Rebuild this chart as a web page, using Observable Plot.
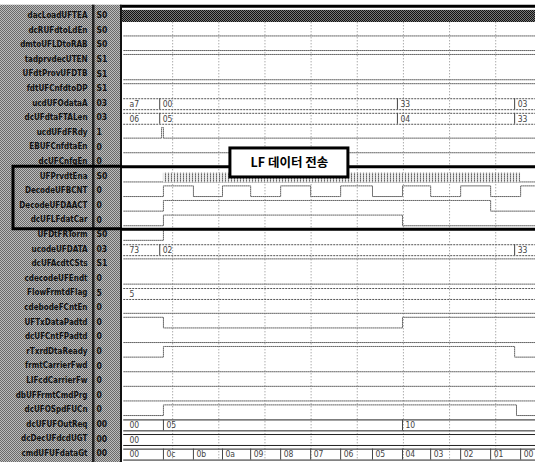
<!DOCTYPE html>
<html><head><meta charset="utf-8">
<script src="https://cdn.jsdelivr.net/npm/d3@7"></script>
<script src="https://cdn.jsdelivr.net/npm/@observablehq/plot@0.6"></script>
<style>body{margin:0;background:#fff} #chart svg{display:block}</style>
</head><body><div id="chart"></div>
<script>
// ---- data ----
const signalNames = ["dacLoadUFTEA","dcRUFdtoLdEn","dmtoUFLDtoRAB","tadprvdecUTEN","UFdtProvUFDTB","fdtUFCnfdtoDP","ucdUFOdataA","dcUFdtaFTALen","ucdUFdFRdy","EBUFCnfdtaEn","dcUFCnfgEn","UFPrvdtEna","DecodeUFBCNT","DecodeUFDAACT","dcUFLFdatCar","UFDtFRTorm","ucodeUFDATA","dcUFAcdtCSts","cdecodeUFEndt","FlowFrmtdFlag","cdebodeFCntEn","UFTxDataPadtd","dcUFCntFPadtd","rTxrdDtaReady","frmtCarrierFwd","LIFcdCarrierFw","dbUFFrmtCmdPrg","dcUFOSpdFUCn","dcUFUFOutReq","dcDecUFdcdUGT","cmdUFUFdataGt"];
const signalValues = ["S0","S0","S0","S1","S1","S1","03","03","1","0","0","S0","0","0","0","S0","03","S1","0","5","0","0","0","0","0","0","0","0","00","00","00"];
const signalKinds = ["dense","bit","bit","bit","bit","bit","bus","bus","bit","bit","bit","bit","bit","bit","bit","bit","bus","bit","bit","bus","bit","bit","bit","bit","bit","bit","bit","bit","bus","bus","bus"];
const bitInitial = [0,0,0,1,0,1,0,0,0,0,0,0,0,0,0,0,0,1,0,0,0,1,0,0,0,0,0,0,0,0,0];
const counterTimes = [0,0.80,1.45,2.08,2.69,3.34,3.99,4.64,5.33,5.98,6.59,7.24,7.89,8.54];
const counterLabels = ["00","0c","0b","0a","09","08","07","06","05","04","03","02","01","00"];
const bitToggles = [[],[],[],[],[],[],[],[],[0.76,0.80],[],[],[],
  [0.80,1.45,2.08,2.69,3.34,3.99,4.64,5.33,5.98,6.59,7.24,7.89,8.54],
  [0.80,7.89],[0.80,5.98],[0.80],[],[],[],[],[],[0.80,5.98],[],[0.80,8.41],[],[],[],[0.80,8.45],[],[],[]];
const busTimes = {6:[0,0.72,5.87,8.41], 7:[0,0.72,5.87,8.41], 16:[0,0.72,8.41], 19:[0], 28:[0,0.80,5.98], 29:[0], 30:counterTimes};
const busLabels = {6:["a7","00","33","03"], 7:["06","05","04","33"], 16:["73","02","33"], 19:["5"], 28:["00","05","10"], 29:["00"], 30:counterLabels};
const denseSpans = [{row:0, t1:-0.09, t2:8.87, pat:"url(#dk)"}, {row:11, t1:0.80, t2:8.54, pat:"url(#st)"}];
const gridTimes = [1,2,3,4,5,6,7,8];
const annotation = {text:"LF 데이터 전송", t:3.53, row:10.6};
const boxRows = [11, 15];

// ---- derived tables ----
const tStart = -0.06, tEnd = 8.87;
const rows = signalNames.map((name, i) => ({i, name, value: signalValues[i], kind: signalKinds[i], yc: i + 0.5}));
const bitPts = [];
rows.filter(r => r.kind === "bit").forEach(r => {
  let lvl = bitInitial[r.i];
  const lev = l => r.i + (l ? 0.17 : 0.9);
  bitPts.push({row:r.i, t:tStart, y:lev(lvl)});
  for (const t of bitToggles[r.i]) { lvl = 1 - lvl; bitPts.push({row:r.i, t, y:lev(lvl)}); }
  bitPts.push({row:r.i, t:tEnd, y:lev(lvl)});
});
const busEdges = [], busVert = [], busText = [];
for (const k of Object.keys(busTimes)) {
  const i = +k, times = busTimes[k], labels = busLabels[k];
  const top = i + 0.2, bot = i + 0.95, mid = i + 0.575;
  busEdges.push({t1:tStart, t2:tEnd, y:top, dark: i >= 28}, {t1:tStart, t2:tEnd, y:bot, dark: i >= 28});
  times.forEach((t, j) => {
    if (j > 0) busVert.push({t, y1:top, y2:bot});
    busText.push({t, y:mid, label:labels[j]});
  });
}

// ---- custom decorations ----
function panel(index, scales, values, dim) {
  const g = d3.create("svg:g");
  const defs = g.append("defs");
  const chk = defs.append("pattern").attr("id","chk").attr("width",2).attr("height",2).attr("patternUnits","userSpaceOnUse");
  chk.append("rect").attr("width",2).attr("height",2).attr("fill","#bcbcbc");
  chk.append("rect").attr("width",1).attr("height",1).attr("fill","#6a6a6a");
  chk.append("rect").attr("x",1).attr("y",1).attr("width",1).attr("height",1).attr("fill","#6a6a6a");
  const dk = defs.append("pattern").attr("id","dk").attr("width",2).attr("height",2).attr("patternUnits","userSpaceOnUse");
  dk.append("rect").attr("width",2).attr("height",2).attr("fill","#777");
  dk.append("rect").attr("width",1).attr("height",1).attr("fill","#111");
  dk.append("rect").attr("x",1).attr("y",1).attr("width",1).attr("height",1).attr("fill","#111");
  const st = defs.append("pattern").attr("id","st").attr("width",3).attr("height",2).attr("patternUnits","userSpaceOnUse");
  st.append("rect").attr("width",3).attr("height",2).attr("fill","#ececec");
  st.append("rect").attr("width",1).attr("height",1).attr("fill","#666");
  st.append("rect").attr("y",1).attr("width",1).attr("height",1).attr("fill","#999");
  const y0 = scales.y(0) - 3;
  g.append("rect").attr("x",0).attr("y",y0).attr("width",dim.marginLeft).attr("height",dim.height - y0).attr("fill","url(#chk)");
  g.append("rect").attr("x",92).attr("y",y0).attr("width",2.5).attr("height",dim.height - y0).attr("fill","#222");
  g.append("rect").attr("x",dim.marginLeft - 2).attr("y",y0).attr("width",2).attr("height",dim.height - y0).attr("fill","#111");
  return g.node();
}
function boxLeft(index, scales, values, dim) {
  const g = d3.create("svg:g");
  const ya = scales.y(boxRows[0]) - 2, yb = scales.y(boxRows[1]) + 2;
  g.append("path").attr("d", `M${dim.marginLeft},${ya}H13V${yb}H${dim.marginLeft}`)
    .attr("fill","none").attr("stroke","#000").attr("stroke-width",3);
  return g.node();
}
function labelBox(index, scales) {
  const g = d3.create("svg:g");
  const cx = scales.x(annotation.t), cy = scales.y(annotation.row);
  g.append("rect").attr("x",cx - 59).attr("y",cy - 14.5).attr("width",118).attr("height",29)
    .attr("fill","#fff").attr("stroke","#000").attr("stroke-width",3);
  return g.node();
}

const font = "'DejaVu Sans Condensed','Liberation Sans Narrow','DejaVu Sans',sans-serif";
const chart = Plot.plot({
  width: 535, height: 462,
  marginLeft: 122, marginRight: 0, marginTop: 7.7, marginBottom: 1.7,
  x: {domain: [-0.0867, 8.862], axis: null},
  y: {domain: [0, 31], reverse: true, axis: null},
  style: {fontFamily: font, background: "#fff"},
  marks: [
    panel,
    Plot.ruleX(gridTimes, {y1: 1, y2: 31, stroke: "#888", strokeDasharray: "1 2"}),
    Plot.line(bitPts, {x: "t", y: "y", z: "row", curve: "step-after", stroke: "#666", strokeDasharray: "1 1", strokeWidth: 1}),
    Plot.ruleY(busEdges.filter(e => !e.dark), {y: "y", x1: "t1", x2: "t2", stroke: "#555", strokeDasharray: "2 1"}),
    Plot.ruleY(busEdges.filter(e => e.dark), {y: "y", x1: "t1", x2: "t2", stroke: "#222"}),
    Plot.ruleX(busVert, {x: "t", y1: "y1", y2: "y2", stroke: "#444"}),
    ...denseSpans.map(s => Plot.rect([s], {x1: "t1", x2: "t2", y1: d => d.row + (d.row === 0 ? 0.15 : 0.3), y2: d => d.row + (d.row === 0 ? 0.98 : 0.95), fill: s.pat})),
    Plot.text(busText, {x: "t", y: "y", text: "label", textAnchor: "start", dx: 3, fontSize: 8.5, fill: "#444"}),
    Plot.ruleY([0], {dy: -2, stroke: "#000", strokeWidth: 3}),
    Plot.ruleY([boxRows[0]], {dy: -2, stroke: "#000", strokeWidth: 3}),
    Plot.ruleY([boxRows[1]], {dy: 2, stroke: "#000", strokeWidth: 3}),
    boxLeft,
    Plot.text(rows, {y: "yc", text: "name", frameAnchor: "left", dx: -35, textAnchor: "end", fontSize: 8, fontWeight: "bold", fill: "#111"}),
    Plot.text(rows, {y: "yc", text: "value", frameAnchor: "left", dx: -26, textAnchor: "start", fontSize: 8.5, fontWeight: "bold", fill: "#111"}),
    labelBox,
    Plot.text([annotation], {x: "t", y: "row", text: "text", fontSize: 12.5, fontWeight: "bold", fill: "#000", fontFamily: "'Noto Sans CJK KR','Noto Sans',sans-serif"})
  ]
});
document.getElementById("chart").appendChild(chart);
</script>
</body></html>
